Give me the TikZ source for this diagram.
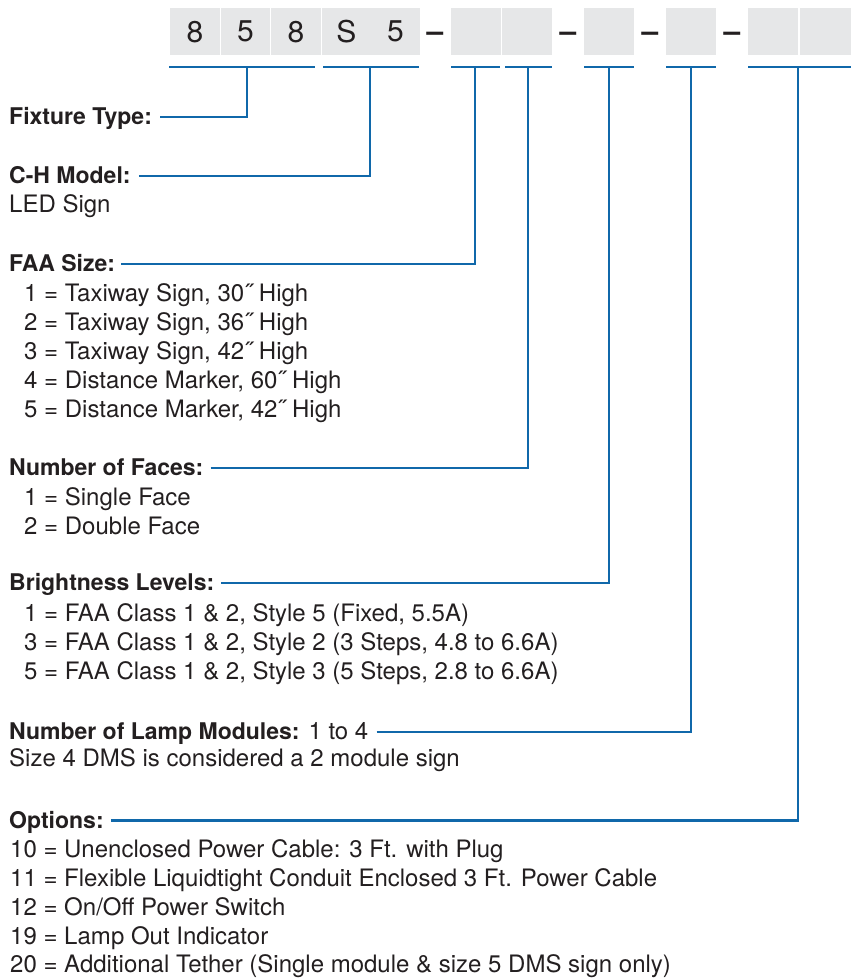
\documentclass[tikz,border=0pt]{standalone}
\usepackage{fontspec}
\setmainfont{TeX Gyre Heros}
\definecolor{cblue}{RGB}{16,104,170}
\definecolor{boxgray}{RGB}{230,231,232}
\definecolor{txt}{RGB}{35,31,32}
\tikzset{
  lbl/.style={anchor=base west, inner sep=0pt, font=\fontsize{23}{29}\selectfont\bfseries, text=txt},
  itm/.style={anchor=base west, inner sep=0pt, font=\fontsize{24}{29}\selectfont, text=txt},
  conn/.style={draw=cblue, line width=2.6pt},
  digitbox/.style={fill=boxgray, minimum width=49.5pt, minimum height=47pt, inner sep=0pt,
    font=\fontsize{30}{30}\selectfont, text=txt, anchor=north west},
  dashsym/.style={anchor=base, inner sep=0pt, font=\fontsize{30}{30}\selectfont\bfseries, text=txt},
}
\begin{document}
\begin{tikzpicture}[x=1pt,y=-1pt]
\useasboundingbox (0,0) rectangle (851,979);
% code boxes
\node[digitbox] (b1) at (170,8) {8};
\node[digitbox] (b2) at (220.5,8) {5};
\node[digitbox] (b3) at (271,8) {8};
\node[digitbox] (b4) at (321.5,8) {S};
\node[digitbox] (b5) at (370.5,8) {5};
\node[dashsym] (d1) at (435,42) {–};
\node[digitbox] (b6) at (451,8) {};
\node[digitbox] (b7) at (502,8) {};
\node[dashsym] (d2) at (568,42) {–};
\node[digitbox] (b8) at (584,8) {};
\node[dashsym] (d3) at (650,42) {–};
\node[digitbox] (b9) at (666,8) {};
\node[dashsym] (d4) at (732,42) {–};
\node[digitbox] (b10) at (748,8) {};
\node[digitbox, minimum width=51.5pt] (b11) at (799.5,8) {};
% brackets
\coordinate (t1) at (247,67);
\coordinate (t2) at (370,67);
\coordinate (t3) at (475,67);
\coordinate (t4) at (528,67);
\coordinate (t5) at (609,67);
\coordinate (t6) at (691,67);
\coordinate (t7) at (798,67);
\draw[conn] (169,67) -- (315,67);
\draw[conn] (323,67) -- (419,67);
\draw[conn] (451,67) -- (500,67);
\draw[conn] (505,67) -- (552,67);
\draw[conn] (584,67) -- (634,67);
\draw[conn] (666,67) -- (716,67);
\draw[conn] (748,67) -- (851,67);
% labels
\node[lbl] (ft) at (9,124.5) {Fixture Type:};
\node[lbl] (ch) at (9,183.5) {C-H Model:};
\node[itm] (led) at (9,212) {LED Sign};
\node[lbl] (faa) at (9,271.5) {FAA Size:};
\node[itm] (faa1) at (24,301) {1 = Taxiway Sign, 30˝ High};
\node[itm] (faa2) at (24,330) {2 = Taxiway Sign, 36˝ High};
\node[itm] (faa3) at (24,359) {3 = Taxiway Sign, 42˝ High};
\node[itm] (faa4) at (24,388) {4 = Distance Marker, 60˝ High};
\node[itm] (faa5) at (24,417) {5 = Distance Marker, 42˝ High};
\node[lbl] (nf) at (9,475.5) {Number of Faces:};
\node[itm] (nf1) at (24,505.5) {1 = Single Face};
\node[itm] (nf2) at (24,534) {2 = Double Face};
\node[lbl] (bl) at (9,590.5) {Brightness Levels:};
\node[itm] (bl1) at (24,621.5) {1 = FAA Class 1 \& 2, Style 5 (Fixed, 5.5A)};
\node[itm] (bl2) at (24,650.5) {3 = FAA Class 1 \& 2, Style 2 (3 Steps, 4.8 to 6.6A)};
\node[itm] (bl3) at (24,679.5) {5 = FAA Class 1 \& 2, Style 3 (5 Steps, 2.8 to 6.6A)};
\node[itm] (lm) at (9,739.5) {\fontsize{23}{29}\selectfont\bfseries Number of Lamp Modules:\fontsize{24}{29}\selectfont\mdseries{} 1 to 4};
\node[itm] (lm1) at (9,766) {Size 4 DMS is considered a 2 module sign};
\node[lbl] (op) at (9,828) {Options:};
\node[itm] (op1) at (10,857.5) {10 = Unenclosed Power Cable: 3 Ft. with Plug};
\node[itm] (op2) at (10,886.5) {11 = Flexible Liquidtight Conduit Enclosed 3 Ft. Power Cable};
\node[itm] (op3) at (10,915.5) {12 = On/Off Power Switch};
\node[itm] (op4) at (10,944) {19 = Lamp Out Indicator};
\node[itm] (op5) at (10,972.5) {20 = Additional Tether (Single module \& size 5 DMS sign only)};
% connectors
\draw[conn] ([xshift=8pt,yshift=7.5pt]ft.base east) -| (t1);
\draw[conn] ([xshift=8pt,yshift=7.5pt]ch.base east) -| (t2);
\draw[conn] ([xshift=6pt,yshift=7.5pt]faa.base east) -| (t3);
\draw[conn] ([xshift=7pt,yshift=7.5pt]nf.base east) -| (t4);
\draw[conn] ([xshift=7pt,yshift=7.5pt]bl.base east) -| (t5);
\draw[conn] ([xshift=8pt,yshift=7.5pt]lm.base east) -| (t6);
\draw[conn] ([xshift=7pt,yshift=7.5pt]op.base east) -| (t7);
\end{tikzpicture}
\end{document}
